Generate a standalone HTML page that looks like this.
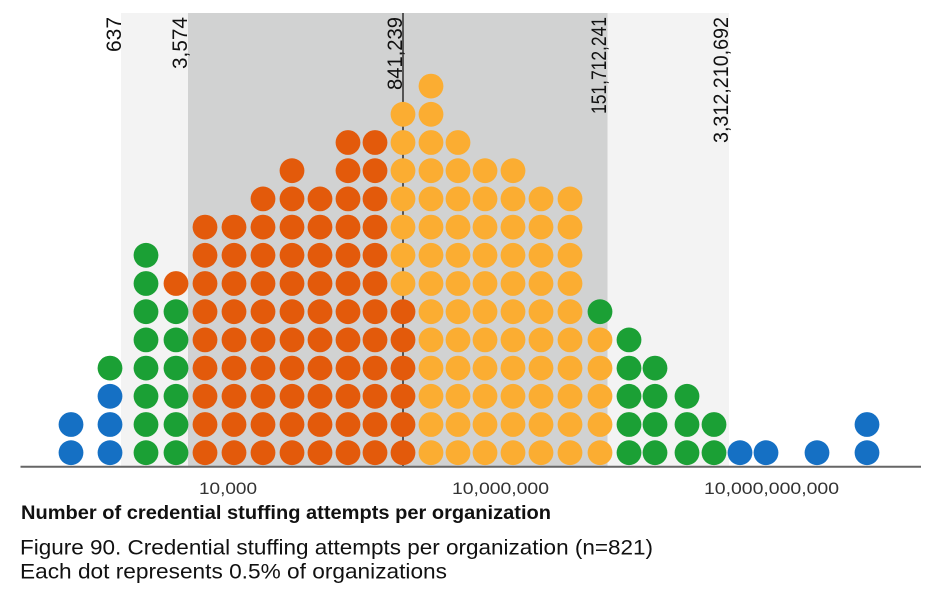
<!DOCTYPE html>
<html>
<head>
<meta charset="utf-8">
<style>
  html,body{margin:0;padding:0;background:#fff;}
  svg{display:block;}
  text{font-family:"Liberation Sans",Arial,sans-serif;}
</style>
</head>
<body>
<svg width="944" height="598" viewBox="0 0 944 598" xmlns="http://www.w3.org/2000/svg">
  <!-- bands -->
  <rect x="121" y="13" width="608" height="453" fill="#f3f3f3"/>
  <rect x="188" y="13" width="419.5" height="453" fill="#d1d2d2"/>
  <!-- median line -->
  <line x1="403" y1="13" x2="403" y2="466" stroke="#555" stroke-width="2"/>

  <!-- dots -->
  <g id="dots"></g>

  <!-- axis -->
  <line x1="20.5" y1="466.8" x2="921" y2="466.8" stroke="#666" stroke-width="2"/>

  <!-- rotated labels -->
  <g font-size="21" fill="#111">
    <text transform="translate(121,17) rotate(-90)" text-anchor="end" textLength="35" lengthAdjust="spacingAndGlyphs">637</text>
    <text transform="translate(187,17) rotate(-90)" text-anchor="end" textLength="52" lengthAdjust="spacingAndGlyphs">3,574</text>
    <text transform="translate(402,17) rotate(-90)" text-anchor="end" textLength="73" lengthAdjust="spacingAndGlyphs">841,239</text>
    <text transform="translate(606,17) rotate(-90)" text-anchor="end" textLength="97" lengthAdjust="spacingAndGlyphs">151,712,241</text>
    <text transform="translate(728,17) rotate(-90)" text-anchor="end" textLength="126" lengthAdjust="spacingAndGlyphs">3,312,210,692</text>
  </g>

  <!-- tick labels -->
  <g font-size="17" fill="#333">
    <text x="199" y="494" textLength="58" lengthAdjust="spacingAndGlyphs">10,000</text>
    <text x="452" y="494" textLength="97" lengthAdjust="spacingAndGlyphs">10,000,000</text>
    <text x="704" y="494" textLength="135" lengthAdjust="spacingAndGlyphs">10,000,000,000</text>
  </g>

  <!-- title & caption -->
  <text x="21" y="519" font-size="19" font-weight="bold" fill="#111" textLength="530" lengthAdjust="spacingAndGlyphs">Number of credential stuffing attempts per organization</text>
  <text x="20" y="554.5" font-size="21" fill="#111" textLength="633" lengthAdjust="spacingAndGlyphs">Figure 90. Credential stuffing attempts per organization (n=821)</text>
  <text x="20" y="578.5" font-size="21" fill="#111" textLength="427" lengthAdjust="spacingAndGlyphs">Each dot represents 0.5% of organizations</text>
</svg>
<script>
(function(){
  var C={B:"#1570C4",G:"#1BA035",O:"#E35A0B",Y:"#FBAD32"};
  var cols=[
    [71,[["B",2]]],
    [110,[["B",3],["G",1]]],
    [146,[["G",8]]],
    [176,[["G",6],["O",1]]],
    [205,[["O",9]]],
    [234,[["O",9]]],
    [263,[["O",10]]],
    [292,[["O",11]]],
    [320,[["O",10]]],
    [348,[["O",12]]],
    [375,[["O",12]]],
    [403,[["O",6],["Y",7]]],
    [431,[["Y",14]]],
    [458,[["Y",12]]],
    [485,[["Y",11]]],
    [513,[["Y",11]]],
    [541,[["Y",10]]],
    [570,[["Y",10]]],
    [600,[["Y",5],["G",1]]],
    [629,[["G",5]]],
    [655,[["G",4]]],
    [687,[["G",3]]],
    [714,[["G",2]]],
    [740,[["B",1]]],
    [766,[["B",1]]],
    [817,[["B",1]]],
    [867,[["B",2]]]
  ];
  var g=document.getElementById("dots"),ns="http://www.w3.org/2000/svg";
  cols.forEach(function(c){
    var row=0;
    c[1].forEach(function(s){
      for(var i=0;i<s[1];i++){
        var e=document.createElementNS(ns,"circle");
        e.setAttribute("cx",c[0]);
        e.setAttribute("cy",(452.7-28.2*row).toFixed(1));
        e.setAttribute("r","12.4");
        e.setAttribute("fill",C[s[0]]);
        g.appendChild(e);
        row++;
      }
    });
  });
})();
</script>
</body>
</html>
